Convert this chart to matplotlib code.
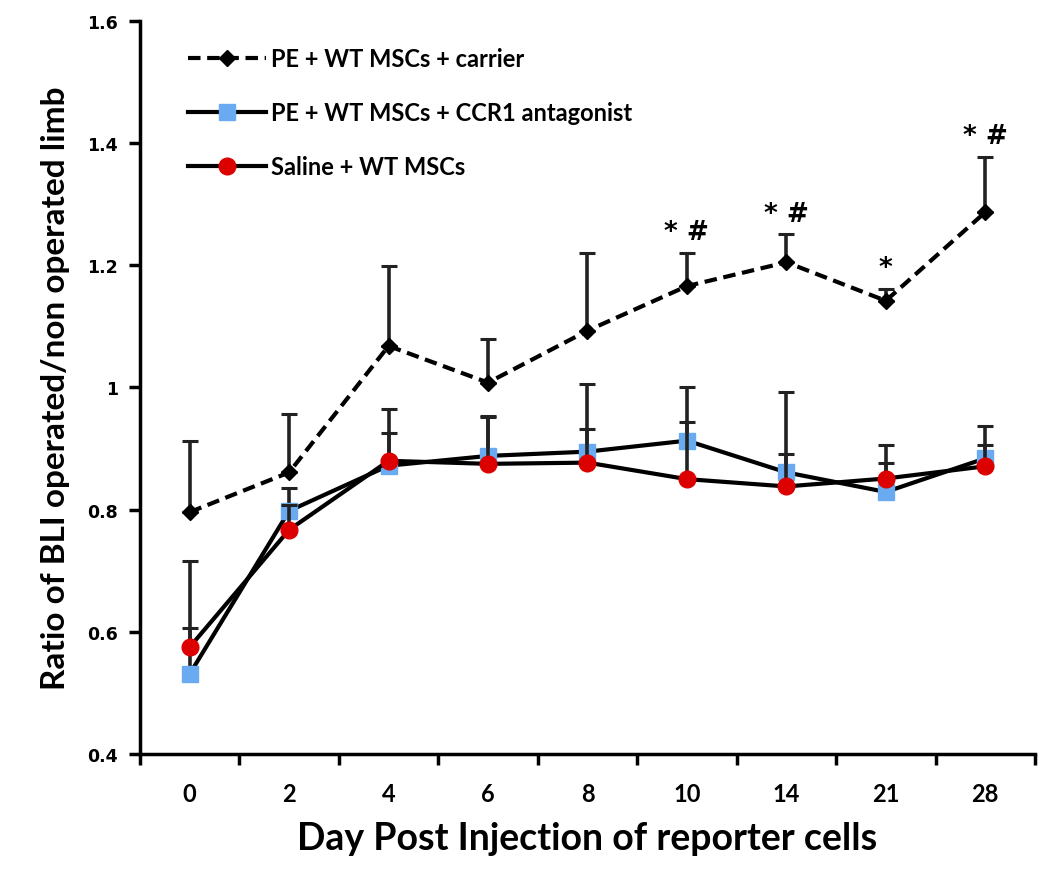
import numpy as np
import matplotlib
matplotlib.use("Agg")
import matplotlib.pyplot as plt

# categories on the x axis (days)
days = ["0", "2", "4", "6", "8", "10", "14", "21", "28"]

# PE + WT MSCs + carrier
carrier = [0.796, 0.861, 1.068, 1.008, 1.093, 1.166, 1.205, 1.142, 1.287]
carrier_err = [0.117, 0.095, 0.131, 0.071, 0.128, 0.055, 0.046, 0.020, 0.091]

# PE + WT MSCs + CCR1 antagonist
ccr1 = [0.531, 0.798, 0.872, 0.888, 0.895, 0.913, 0.861, 0.829, 0.884]
ccr1_err = [0.076, 0.037, 0.054, 0.064, 0.111, 0.087, 0.132, 0.048, 0.053]

# Saline + WT MSCs
saline = [0.575, 0.767, 0.880, 0.875, 0.877, 0.850, 0.838, 0.851, 0.871]
saline_err = [0.141, 0.040, 0.085, 0.079, 0.055, 0.093, 0.053, 0.055, 0.035]

# significance marks above the carrier series
marks = ["", "", "", "", "", "* #", "* #", "*", "* #"]

label_font = "Lato"


def upper(err):
    # only the upper half of the error bar is shown
    return [np.zeros(len(err)), np.array(err)]


def main():
    fig = plt.figure(figsize=(10.5, 8.7), dpi=100)
    ax = fig.add_axes([0.1333, 0.1322, 0.8524, 0.8425])
    x = np.arange(len(days))

    ecol = "#222222"
    c1 = ax.errorbar(x, carrier, yerr=upper(carrier_err), fmt="--D", color="black",
                     lw=3, ms=8.5, dashes=(3, 1.6), ecolor=ecol, elinewidth=2.6,
                     capsize=6, capthick=2.2, label="PE + WT MSCs + carrier", zorder=3)
    c2 = ax.errorbar(x, ccr1, yerr=upper(ccr1_err), fmt="-s", color="black",
                     mfc="#6aaaf0", mec="#6aaaf0", lw=3, ms=11.5, ecolor=ecol,
                     elinewidth=2.6, capsize=6, capthick=2.2,
                     label="PE + WT MSCs + CCR1 antagonist", zorder=4)
    c3 = ax.errorbar(x, saline, yerr=upper(saline_err), fmt="-o", color="black",
                     mfc="#dd0000", mec="#dd0000", lw=3, ms=12, ecolor=ecol,
                     elinewidth=2.6, capsize=6, capthick=2.2,
                     label="Saline + WT MSCs", zorder=5)

    for i, m in enumerate(marks):
        if m:
            ax.text(x[i], carrier[i] + carrier_err[i] + 0.012, m, ha="center",
                    va="bottom", fontsize=19, fontweight="bold",
                    family="DejaVu Sans")

    ax.set_xlim(-0.5, len(days) - 0.5)
    ax.set_ylim(0.4, 1.6)
    ax.set_yticks(np.arange(0.4, 1.61, 0.2))
    ax.set_yticklabels(["0.4", "0.6", "0.8", "1", "1.2", "1.4", "1.6"],
                       family="DejaVu Sans", fontweight="bold", fontsize=12.5)
    ax.set_xticks(np.arange(-0.5, len(days)), labels=[""] * (len(days) + 1))
    ax.set_xticks(x, labels=days, minor=True)
    ax.tick_params(axis="x", which="major", direction="out", length=8, width=2.5)
    ax.tick_params(axis="x", which="minor", length=0, pad=20, labelsize=17)
    ax.tick_params(axis="y", direction="out", length=8, width=2.5, pad=8)
    for lab in ax.get_xticklabels(minor=True):
        lab.set_family(label_font)
        lab.set_fontweight("bold")

    for side in ["top", "right"]:
        ax.spines[side].set_visible(False)
    for side in ["left", "bottom"]:
        ax.spines[side].set_linewidth(2.5)

    ax.set_xlabel("Day Post Injection of reporter cells", family=label_font,
                  fontweight="bold", fontsize=27, labelpad=12)
    ax.set_ylabel("Ratio of BLI operated/non operated limb", family=label_font,
                  fontweight="bold", fontsize=24, labelpad=12)

    # legend shows line + marker only, no error bar
    handles = [c[0] for c in (c1, c2, c3)]
    labels = ["PE + WT MSCs + carrier", "PE + WT MSCs + CCR1 antagonist",
              "Saline + WT MSCs"]
    ax.legend(handles, labels, loc="upper left", bbox_to_anchor=(0.03, 0.993),
              frameon=False, prop={"family": label_font, "weight": "bold", "size": 17},
              handlelength=3.3, handletextpad=0.2, labelspacing=1.3)

    fig.savefig("out.png", dpi=100, facecolor="white")


if __name__ == "__main__":
    main()
